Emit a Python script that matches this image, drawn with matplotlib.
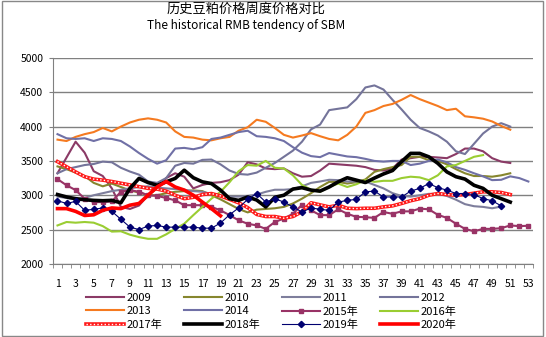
import numpy as np
import matplotlib
matplotlib.use('Agg')
import matplotlib.pyplot as plt
from matplotlib.patches import Rectangle
from matplotlib.legend_handler import HandlerTuple

plt.rcParams['font.family'] = ['Noto Sans CJK SC', 'DejaVu Sans']

# 每周价格 (元/吨), 从第1周开始
y2009 = [3320, 3550, 3780, 3620, 3350, 3280, 3100, 2830, 2800, 2850,
         3000, 3100, 3250, 3320, 3270, 3100, 3150, 3180, 3190, 3220,
         3300, 3480, 3450, 3390, 3380, 3390, 3320, 3270, 3280, 3360,
         3460, 3450, 3440, 3430, 3410, 3370, 3360, 3390, 3520, 3540,
         3560, 3560, 3550, 3540, 3600, 3680, 3680, 3640, 3540, 3490, 3470]
y2010 = [3420, 3380, 3330, 3280, 3180, 3130, 3170, 3120, 3070, 3040,
         3000, 3000, 3030, 3050, 3060, 3070, 3060, 3000, 2940, 2870,
         2800, 2750, 2790, 2800, 2810, 2830, 2880, 2950, 3030, 3120,
         3195, 3195, 3170, 3190, 3230, 3340, 3380, 3410, 3440, 3560,
         3560, 3510, 3500, 3450, 3380, 3320, 3280, 3280, 3270, 3290, 3320]
y2011 = [2980, 2960, 2940, 2960, 3000, 3030, 3060, 3080, 3100, 3120,
         3130, 3110, 3100, 3090, 3080, 3060, 3050, 3020, 3000, 2980,
         2980, 2990, 3010, 3050, 3080, 3080, 3090, 3130, 3180, 3200,
         3225, 3220, 3200, 3200, 3200, 3150, 3100, 3030, 2990, 2980,
         3000, 3020, 3020, 2990, 2935, 2870, 2840, 2830, 2810, 2835]
y2012 = [3320, 3380, 3410, 3440, 3455, 3490, 3480, 3400, 3345, 3300,
         3200, 3180, 3250, 3430, 3470, 3460, 3515, 3520, 3450, 3360,
         3310, 3300, 3330, 3400, 3470, 3560, 3650, 3780, 3960, 4030,
         4240, 4260, 4280, 4400, 4570, 4600, 4540, 4390, 4250, 4100,
         3980, 3930, 3870, 3780, 3640, 3600, 3750, 3900, 4000, 4050, 4000]
y2013 = [3810, 3790, 3850, 3890, 3920, 3980, 3930, 4000, 4060, 4100,
         4120, 4100, 4060, 3930, 3850, 3840, 3810, 3800, 3830, 3850,
         3940, 3990, 4100, 4070, 3980, 3880, 3840, 3870, 3905, 3860,
         3820, 3800, 3880, 4000, 4200, 4240, 4300, 4330, 4390, 4460,
         4400, 4350, 4300, 4240, 4260, 4150, 4135, 4115, 4075, 4010, 3955]
y2014 = [3890, 3830, 3820, 3830, 3790, 3830, 3820, 3790, 3710, 3615,
         3530, 3460, 3510, 3680, 3690, 3670, 3700, 3820, 3840, 3880,
         3920, 3940, 3860, 3850, 3830, 3790, 3700, 3620, 3570, 3555,
         3615, 3590, 3565, 3555, 3530, 3500, 3490, 3500, 3500, 3440,
         3460, 3500, 3520, 3480, 3410, 3370, 3320, 3275, 3220, 3225,
         3275, 3250, 3200]
y2015 = [3235, 3145, 3075, 2950, 2900, 2900, 2910, 3050, 3075, 3050,
         3000, 2990, 2960, 2925, 2855, 2855, 2855, 2830, 2780, 2710,
         2635, 2585, 2560, 2510, 2610, 2660, 2730, 2860, 2780, 2710,
         2710, 2795, 2730, 2685, 2680, 2670, 2755, 2730, 2765, 2765,
         2805, 2795, 2715, 2670, 2585, 2510, 2475, 2510, 2510, 2520,
         2560, 2550, 2555]
y2016 = [2560, 2610, 2600, 2610, 2600, 2550, 2470, 2475, 2425, 2390,
         2365, 2365, 2430, 2510, 2585, 2710, 2830, 2950, 3050, 3190,
         3350, 3440, 3430, 3500, 3400, 3390, 3290, 3150, 3080, 3050,
         3120, 3170, 3120, 3160, 3220, 3195, 3210, 3210, 3250, 3270,
         3260, 3220, 3290, 3420, 3440, 3500, 3560, 3585]
y2017 = [3490, 3415, 3340, 3270, 3235, 3220, 3200, 3175, 3150, 3125,
         3100, 3090, 3060, 3000, 2950, 2970, 3010, 3025, 2990, 2940,
         2890, 2820, 2720, 2690, 2690, 2665, 2690, 2760, 2890, 2860,
         2830, 2855, 2810, 2805, 2810, 2810, 2830, 2845, 2880, 2920,
         2950, 3000, 3025, 3010, 3000, 3010, 3030, 3050, 3050, 3040, 3010]
y2018 = [3010, 2975, 2950, 2935, 2925, 2920, 2925, 2890, 3100, 3245,
         3185, 3145, 3195, 3245, 3365, 3255, 3195, 3170, 3075, 2950,
         2925, 2975, 2930, 2830, 2970, 3000, 3090, 3110, 3075, 3060,
         3120, 3195, 3255, 3220, 3185, 3250, 3310, 3360, 3490, 3610,
         3610, 3560, 3465, 3340, 3270, 3235, 3145, 3100, 3000, 2950, 2900]
y2019 = [2920, 2880, 2910, 2780, 2795, 2815, 2765, 2650, 2535, 2500,
         2550, 2560, 2535, 2535, 2535, 2535, 2520, 2520, 2595, 2715,
         2815, 2940, 3025, 2900, 2950, 2900, 2830, 2755, 2815, 2795,
         2780, 2900, 2925, 2940, 3050, 3060, 2975, 2975, 2975, 3060,
         3100, 3170, 3110, 3075, 3025, 3025, 3010, 2950, 2920, 2845]
y2020 = [2805, 2805, 2765, 2705, 2715, 2780, 2815, 2805, 2855, 2880,
         3000, 3120, 3200, 3120, 3075, 3000, 2900, 2805, 2700]

weeks = np.arange(1, 54)

fig = plt.figure(figsize=(5.46, 3.37), dpi=100)
ax = fig.add_axes([0.097, 0.217, 0.879, 0.611])

def wk(y):
    return np.arange(1, len(y) + 1)

h = {}
h['2009'], = ax.plot(wk(y2009), y2009, color='#8B3A66', lw=1.5)
h['2010'], = ax.plot(wk(y2010), y2010, color='#86862E', lw=1.5)
h['2011'], = ax.plot(wk(y2011), y2011, color='#7E7E9C', lw=1.5)
h['2012'], = ax.plot(wk(y2012), y2012, color='#74749A', lw=1.5)
h['2013'], = ax.plot(wk(y2013), y2013, color='#F57A20', lw=1.5)
h['2014'], = ax.plot(wk(y2014), y2014, color='#7070A6', lw=1.5)
h['2015年'], = ax.plot(wk(y2015), y2015, color='#993366', lw=1.5,
                      marker='s', ms=3.3, mec='#993366')
h['2016年'], = ax.plot(wk(y2016), y2016, color='#9ACD32', lw=1.5)
# 2017: 红色圆点线
r1, = ax.plot(wk(y2017), y2017, color='#FF1A1A', lw=2.6)
r2, = ax.plot(wk(y2017), y2017, color='white', lw=1.0, ls=(0, (1, 1.6)))
h['2017年'] = (r1, r2)
h['2018年'], = ax.plot(wk(y2018), y2018, color='black', lw=2.6)
h['2019年'], = ax.plot(wk(y2019), y2019, color='#000070', lw=0.8,
                      marker='D', ms=3.2)
h['2020年'], = ax.plot(wk(y2020), y2020, color='#FF0000', lw=2.6)

ax.set_xlim(0.5, 53.5)
ax.set_ylim(2000, 5000)
ax.set_yticks(np.arange(2000, 5001, 500))
ax.yaxis.grid(True, color='#808080', lw=1)
ax.set_axisbelow(True)

ax.set_xticks(weeks[::2])
ax.set_xticklabels([str(w) for w in weeks[::2]])
ax.set_xticks(np.arange(0.5, 54, 1), minor=True)
ax.tick_params(axis='x', which='major', length=0, labelsize=7.5, pad=11)
ax.tick_params(axis='x', which='minor', length=3, color='#808080')
ax.tick_params(axis='y', length=3, color='#808080', labelsize=7.5, pad=4)

for s in ['top', 'right']:
    ax.spines[s].set_visible(False)
for s in ['left', 'bottom']:
    ax.spines[s].set_color('#808080')

fig.text(0.45, 0.973, '历史豆粕价格周度价格对比', ha='center', va='center', fontsize=9.5)
fig.text(0.45, 0.925, 'The historical RMB tendency of SBM', ha='center', va='center', fontsize=8.5)

order = ['2009', '2013', '2017年', '2010', '2014', '2018年',
         '2011', '2015年', '2019年', '2012', '2016年', '2020年']
fig.legend([h[k] for k in order], order, ncol=4, loc='upper left',
           bbox_to_anchor=(0.158, 0.131), frameon=False, fontsize=8,
           handlelength=3.4, handletextpad=0.2, columnspacing=2.0,
           labelspacing=0.3, borderpad=0, borderaxespad=0,
           handler_map={tuple: HandlerTuple(ndivide=1)})

fig.patches.append(Rectangle((0.004, 0.004), 0.99, 0.993, transform=fig.transFigure,
                             fill=False, edgecolor='#888888', lw=1))

fig.savefig('out.png', dpi=100)
